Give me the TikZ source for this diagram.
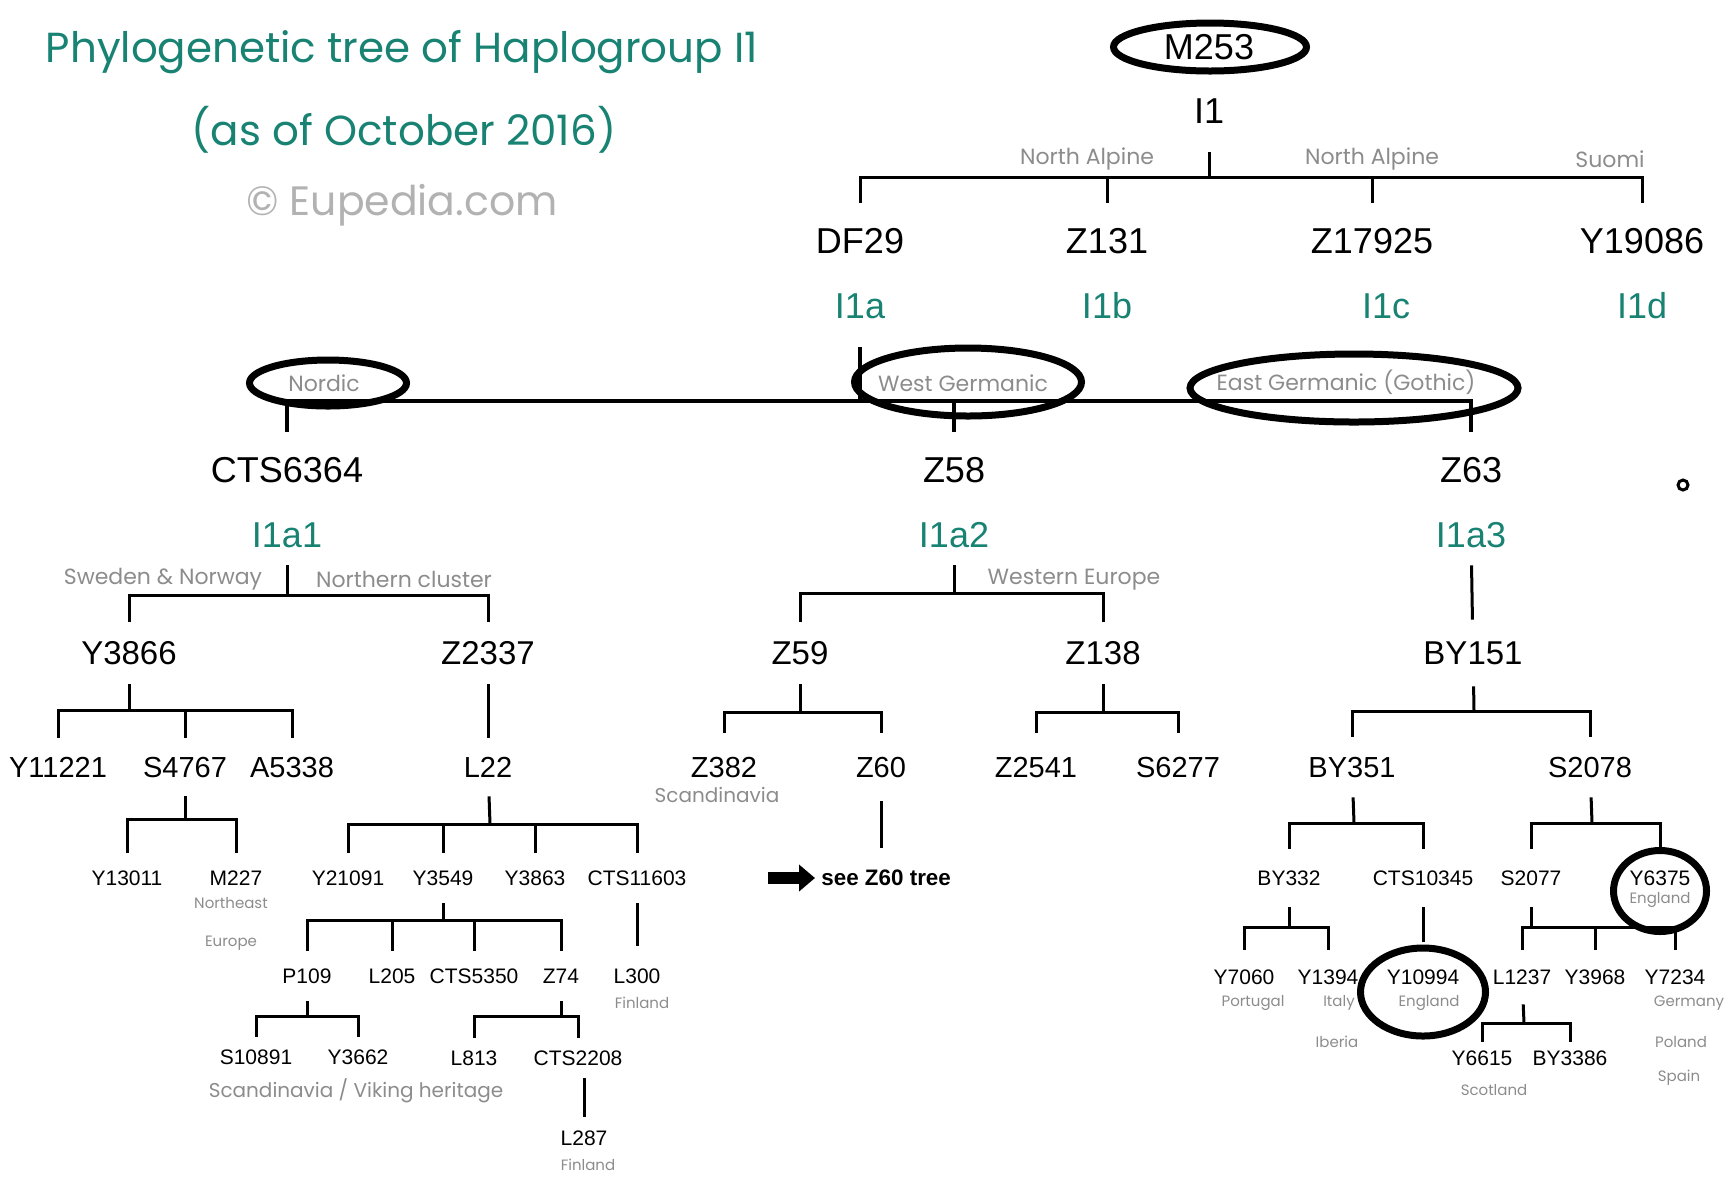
\documentclass[tikz,border=0pt]{standalone}
\usepackage{fontspec}
\setmainfont{Liberation Sans}
\newfontfamily\gothic{Poppins}
\usetikzlibrary{shapes.geometric,arrows.meta}
\definecolor{tealhg}{RGB}{24,130,115}
\definecolor{regiongray}{RGB}{140,140,140}
\definecolor{copygray}{RGB}{178,178,178}

\begin{document}
\begin{tikzpicture}[
	x=0.5pt, y=-0.5pt,
	title/.style={text=tealhg, font=\gothic\fontsize{21}{24}\selectfont},
	copyr/.style={text=copygray, font=\gothic\fontsize{20.5}{24}\selectfont},
	snp/.style={inner sep=0pt, minimum height=38pt, font=\fontsize{18}{20}\selectfont},
	clade/.style={snp, text=tealhg, minimum height=41pt},
	subclade/.style={snp, text=tealhg, minimum height=30pt},
	snpmid/.style={inner sep=0pt, minimum height=31pt, font=\fontsize{16.5}{18}\selectfont},
	snprow/.style={inner sep=0pt, minimum height=29pt, font=\fontsize{14.5}{16}\selectfont},
	snpsmall/.style={inner sep=0pt, minimum height=25pt, font=\fontsize{10.5}{12}\selectfont},
	region/.style={text=regiongray, font=\gothic\fontsize{11}{13}\selectfont},
	place/.style={text=regiongray, font=\gothic\fontsize{7.5}{9}\selectfont},
	Branch/.style={line width=1.5pt},
	MainBar/.style={line width=2pt},
	Ring/.style={ellipse, draw, line width=3.5pt, inner sep=0pt},
	FatArrow/.style={line width=6pt, -{Triangle[length=8pt,width=13pt]}},
]
	\useasboundingbox (0,0) rectangle (1727,1180);

	% header
	\node [title] (title) at (402,52) {Phylogenetic tree of Haplogroup I1};
	\node [title] (date) at (404,130) {(as of October 2016)};
	\node [copyr] (copy) at (402,205) {© Eupedia.com};

	% I1
	\node [snp] (M253) at (1209,47) {M253};
	\node [snp, minimum height=41pt] (I1) at (1209,111) {I1};
	\coordinate (I1bar) at (1209,177);
	\node [region] (naA) at (1087,159) {North Alpine};
	\node [region] (naB) at (1372,159) {North Alpine};
	\node [region] (suomi) at (1610,159) {Suomi};

	\node [snp] (DF29) at (860,241) {DF29};
	\node [snp] (Z131) at (1107,241) {Z131};
	\node [snp] (Z17925) at (1372,241) {Z17925};
	\node [snp] (Y19086) at (1642,241) {Y19086};
	\node [clade] (I1a) at (860,306) {I1a};
	\node [clade] (I1b) at (1107,306) {I1b};
	\node [clade] (I1c) at (1386,306) {I1c};
	\node [clade] (I1d) at (1642,306) {I1d};

	\draw [Branch] (I1) -- (I1bar);
	\draw [Branch] (I1bar) -| (DF29);
	\draw [Branch] (I1bar) -| (Z131);
	\draw [Branch] (I1bar) -| (Z17925);
	\draw [Branch] (I1bar) -| (Y19086);

	% I1a
	\coordinate (I1abar) at (860,401);
	\node [region] (nordic) at (324,383) {Nordic};
	\node [region] (westg) at (963,383) {West Germanic};
	\node [region] (eastg) at (1346,382) {East Germanic (Gothic)};

	\node [snp] (CTS6364) at (287,470) {CTS6364};
	\node [snp] (Z58) at (954,470) {Z58};
	\node [snp] (Z63) at (1471,470) {Z63};
	\node [subclade] (I1a1) at (287,535) {I1a1};
	\node [subclade] (I1a2) at (954,535) {I1a2};
	\node [subclade] (I1a3) at (1471,535) {I1a3};

	\draw [MainBar] (I1a) -- (I1abar);
	\draw [MainBar] (I1abar) -| (CTS6364);
	\draw [MainBar] (I1abar) -| (Z58);
	\draw [MainBar] (I1abar) -| (Z63);

	% CTS6364
	\coordinate (I1a1bar) at (287,595);
	\node [region] (swno) at (163,579) {Sweden \& Norway};
	\node [region] (north) at (404,579) {Northern cluster};
	\node [snpmid] (Y3866) at (129,653) {Y3866};
	\node [snpmid] (Z2337) at (488,653) {Z2337};
	\draw [Branch] (I1a1) -- (I1a1bar);
	\draw [Branch] (I1a1bar) -| (Y3866);
	\draw [Branch] (I1a1bar) -| (Z2337);

	\coordinate (Y3866bar) at (129,710);
	\node [snprow] (Y11221) at (58,767) {Y11221};
	\node [snprow] (S4767) at (185,767) {S4767};
	\node [snprow] (A5338) at (292,767) {A5338};
	\draw [Branch] (Y3866) -- (Y3866bar);
	\draw [Branch] (Y3866bar) -| (Y11221);
	\draw [Branch] (Y3866bar) -| (S4767);
	\draw [Branch] (Y3866bar) -| (A5338);

	\coordinate (S4767bar) at (185,819);
	\node [snpsmall] (Y13011) at (127,878) {Y13011};
	\node [snpsmall] (M227) at (236,878) {M227};
	\node [place, align=center] (neeurope) at (231,924) {Northeast\\[10pt]Europe};
	\draw [Branch] (S4767) -- (S4767bar);
	\draw [Branch] (S4767bar) -| (Y13011);
	\draw [Branch] (S4767bar) -| (M227);

	\node [snprow] (L22) at (488,767) {L22};
	\draw [Branch] (Z2337) -- (L22);

	\coordinate (L22bar) at (490,824);
	\node [snpsmall] (Y21091) at (348,878) {Y21091};
	\node [snpsmall] (Y3549) at (443,878) {Y3549};
	\node [snpsmall] (Y3863) at (535,878) {Y3863};
	\node [snpsmall] (CTS11603) at (637,878) {CTS11603};
	\draw [Branch] (L22) -- (L22bar);
	\draw [Branch] (L22bar) -| (Y21091);
	\draw [Branch] (L22bar) -| (Y3549);
	\draw [Branch] (L22bar) -| (Y3863);
	\draw [Branch] (L22bar) -| (CTS11603);

	\coordinate (Y3549bar) at (443,920);
	\node [snpsmall] (P109) at (307,976) {P109};
	\node [snpsmall] (L205) at (392,976) {L205};
	\node [snpsmall] (CTS5350) at (474,976) {CTS5350};
	\node [snpsmall] (Z74) at (561,976) {Z74};
	\draw [Branch] (Y3549) -- (Y3549bar);
	\draw [Branch] (Y3549bar) -| (P109);
	\draw [Branch] (Y3549bar) -| (L205);
	\draw [Branch] (Y3549bar) -| (CTS5350);
	\draw [Branch] (Y3549bar) -| (Z74);

	\node [snpsmall, minimum height=30pt] (L300) at (637,976) {L300};
	\node [place] (finA) at (642,1003) {Finland};
	\draw [Branch] (CTS11603) -- (L300);

	\coordinate (P109bar) at (307,1016);
	\node [snpsmall, minimum height=20pt] (S10891) at (256,1057) {S10891};
	\node [snpsmall, minimum height=20pt] (Y3662) at (358,1057) {Y3662};
	\node [region, font=\gothic\fontsize{10}{12}\selectfont] (viking) at (356,1091) {Scandinavia / Viking heritage};
	\draw [Branch] (P109) -- (P109bar);
	\draw [Branch] (P109bar) -| (S10891);
	\draw [Branch] (P109bar) -| (Y3662);

	\coordinate (Z74bar) at (561,1016);
	\node [snpsmall, minimum height=20pt] (L813) at (474,1058) {L813};
	\node [snpsmall, minimum height=20pt] (CTS2208) at (578,1058) {CTS2208};
	\draw [Branch] (Z74) -- (Z74bar);
	\draw [Branch] (Z74bar) -| (L813);
	\draw [Branch] (Z74bar) -| (CTS2208);

	\node [snpsmall, minimum height=21pt] (L287) at (584,1138) {L287};
	\node [place] (finB) at (588,1165) {Finland};
	\draw [Branch] (L287) -- (L287 |- CTS2208.south);

	% Z58
	\coordinate (I1a2bar) at (954,593);
	\node [region] (weurope) at (1074,580) {Western Europe};
	\node [snpmid] (Z59) at (800,653) {Z59};
	\node [snpmid] (Z138) at (1103,653) {Z138};
	\draw [Branch] (I1a2) -- (I1a2bar);
	\draw [Branch] (I1a2bar) -| (Z59);
	\draw [Branch] (I1a2bar) -| (Z138);

	\coordinate (Z59bar) at (800,712);
	\node [snprow, minimum height=34pt] (Z382) at (724,767) {Z382};
	\node [snprow, minimum height=34pt] (Z60) at (881,767) {Z60};
	\node [region, font=\gothic\fontsize{10}{12}\selectfont] (scand) at (717,795) {Scandinavia};
	\draw [Branch] (Z59) -- (Z59bar);
	\draw [Branch] (Z59bar) -| (Z382);
	\draw [Branch] (Z59bar) -| (Z60);

	\node [anchor=west, inner sep=3pt, minimum height=30pt, font=\bfseries\fontsize{11.2}{13}\selectfont] (seeZ60) at (815,878) {see Z60 tree};
	\coordinate (seetail) at (768,878);
	\draw [Branch] (Z60) -- (Z60 |- seeZ60.north);
	\draw [FatArrow] (seetail) -- (seeZ60.west);

	\coordinate (Z138bar) at (1103,712);
	\node [snprow, minimum height=34pt] (Z2541) at (1036,767) {Z2541};
	\node [snprow, minimum height=34pt] (S6277) at (1178,767) {S6277};
	\draw [Branch] (Z138) -- (Z138bar);
	\draw [Branch] (Z138bar) -| (Z2541);
	\draw [Branch] (Z138bar) -| (S6277);

	% Z63
	\node [snpmid, minimum height=33pt] (BY151) at (1473,653) {BY151};
	\draw [Branch] (I1a3) -- (BY151);

	\coordinate (BY151bar) at (1474,711);
	\node [snprow, minimum height=30pt] (BY351) at (1352,767) {BY351};
	\node [snprow, minimum height=30pt] (S2078) at (1590,767) {S2078};
	\draw [Branch] (BY151) -- (BY151bar);
	\draw [Branch] (BY151bar) -| (BY351);
	\draw [Branch] (BY151bar) -| (S2078);

	\coordinate (BY351bar) at (1354,823);
	\node [snpsmall, minimum height=29pt] (BY332) at (1289,878) {BY332};
	\node [snpsmall, minimum height=29pt] (CTS10345) at (1423,878) {CTS10345};
	\draw [Branch] (BY351) -- (BY351bar);
	\draw [Branch] (BY351bar) -| (BY332);
	\draw [Branch] (BY351bar) -| (CTS10345);

	\coordinate (S2078bar) at (1592,823);
	\node [snpsmall, minimum height=29pt] (S2077) at (1531,878) {S2077};
	\node [snpsmall, minimum height=29pt] (Y6375) at (1660,878) {Y6375};
	\node [place] (engA) at (1660,900) {England};
	\draw [Branch] (S2078) -- (S2078bar);
	\draw [Branch] (S2078bar) -| (S2077);
	\draw [Branch] (S2078bar) -| (Y6375);

	\coordinate (BY332bar) at (1289,927);
	\node [snpsmall, minimum height=27pt] (Y7060) at (1244,977) {Y7060};
	\node [snpsmall, minimum height=27pt] (Y1394) at (1328,977) {Y1394};
	\node [place] (portugal) at (1253,1003) {Portugal};
	\node [place] (italy) at (1339,1003) {Italy};
	\node [place] (iberia) at (1337,1042) {Iberia};
	\draw [Branch] (BY332) -- (BY332bar);
	\draw [Branch] (BY332bar) -| (Y7060);
	\draw [Branch] (BY332bar) -| (Y1394);

	\node [snpsmall, minimum height=35pt] (Y10994) at (1423,977) {Y10994};
	\node [place] (engB) at (1429,1003) {England};
	\draw [Branch] (CTS10345) -- (Y10994);

	\coordinate (S2077bar) at (1531,927);
	\node [snpsmall, minimum height=27pt] (L1237) at (1522,977) {L1237};
	\node [snpsmall, minimum height=27pt] (Y3968) at (1595,977) {Y3968};
	\node [snpsmall, minimum height=27pt] (Y7234) at (1675,977) {Y7234};
	\node [place] (germany) at (1689,1003) {Germany};
	\node [place] (poland) at (1681,1042) {Poland};
	\node [place] (spain) at (1679,1078) {Spain};
	\draw [Branch] (S2077) -- (S2077bar);
	\draw [Branch] (S2077bar) -| (L1237);
	\draw [Branch] (S2077bar) -| (Y3968);
	\draw [Branch] (S2077bar) -| (Y7234);

	\coordinate (L1237bar) at (1524,1023);
	\node [snpsmall, minimum height=16pt] (Y6615) at (1482,1058) {Y6615};
	\node [snpsmall, minimum height=16pt] (BY3386) at (1570,1058) {BY3386};
	\node [place] (scotland) at (1494,1090) {Scotland};
	\draw [Branch] (L1237) -- (L1237bar);
	\draw [Branch] (L1237bar) -| (Y6615);
	\draw [Branch] (L1237bar) -| (BY3386);

	% highlight rings
	\node [Ring, minimum width=96.5pt, minimum height=24pt] (ringM253) at (1210,47) {};
	\node [Ring, minimum width=78.5pt, minimum height=23pt] (ringNordic) at (328,383) {};
	\node [Ring, minimum width=113.5pt, minimum height=34pt] (ringWest) at (968,382) {};
	\node [Ring, minimum width=164pt, minimum height=34pt] (ringEast) at (1354,388) {};
	\node [Ring, minimum width=46.5pt, minimum height=40.5pt] (ringY6375) at (1660,891) {};
	\node [Ring, minimum width=62.5pt, minimum height=44pt] (ringY10994) at (1423,992) {};
	\node [circle, draw, line width=1.5pt, minimum size=5pt, inner sep=0pt] (mark) at (1683,485) {};
\end{tikzpicture}
\end{document}
